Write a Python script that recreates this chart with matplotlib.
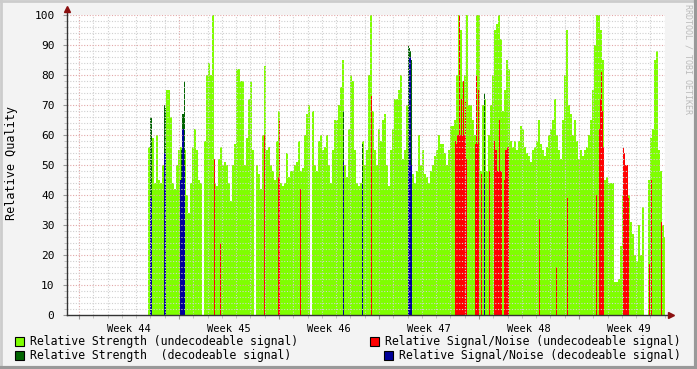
import matplotlib
matplotlib.use('Agg')
import matplotlib.pyplot as plt
import matplotlib.patches as patches
from matplotlib.lines import Line2D
import numpy as np

# x unit = one consolidated sample (1 px in the original), 100 samples per week,
# 0 = start of week 44
weeks = ['Week 44', 'Week 45', 'Week 46', 'Week 47', 'Week 48', 'Week 49']

# Relative Strength (undecodeable signal), one value per 2 samples starting at 69
strength_start = 69
strength_undec = [
    56, 56, 59, 44, 60, 45, 44, 50, 67, 75,
    75, 66, 44, 42, 50, 55, 56, 60, 55, 40,
    34, 44, 56, 62, 55, 45, 44, 0, 58, 80,
    84, 80, 100, 44, 43, 52, 56, 50, 51, 50,
    44, 38, 50, 57, 82, 82, 78, 78, 50, 59,
    72, 78, 55, 0, 50, 47, 42, 60, 83, 55,
    56, 50, 48, 45, 58, 68, 44, 43, 44, 54,
    46, 48, 48, 50, 51, 58, 48, 49, 60, 67,
    70, 0, 68, 50, 48, 58, 60, 55, 56, 60,
    50, 44, 55, 65, 65, 70, 76, 85, 50, 46,
    62, 80, 78, 55, 44, 43, 44, 58, 50, 55,
    80, 100, 68, 55, 50, 62, 58, 65, 67, 50,
    43, 55, 62, 72, 72, 75, 80, 52, 55, 70,
    50, 50, 47, 44, 48, 60, 50, 55, 47, 46,
    44, 48, 50, 53, 55, 60, 57, 57, 54, 50,
    55, 63, 63, 65, 80, 100, 95, 78, 80, 100,
    70, 70, 65, 60, 100, 100, 48, 70, 72, 48,
    60, 70, 80, 95, 97, 100, 92, 68, 75, 85,
    82, 58, 56, 58, 55, 58, 63, 62, 56, 54,
    53, 51, 55, 56, 58, 65, 57, 55, 53, 56,
    60, 62, 65, 72, 60, 55, 52, 65, 80, 95,
    70, 67, 60, 65, 58, 52, 55, 53, 55, 56,
    60, 65, 75, 90, 100, 100, 95, 85, 45, 46,
    44, 44, 44, 11, 11, 12, 23, 40, 44, 45,
    40, 31, 27, 20, 18, 30, 20, 36, 0, 0,
    45, 59, 62, 85, 88, 55, 48, 30, 26,
]

# Relative Signal/Noise (undecodeable signal)
snr_undec_pos = [135, 141, 185, 199, 200, 221, 292,
                 376, 377, 378, 379, 380, 381, 382, 383, 384, 385, 386, 387,
                 396, 397, 398, 399, 402, 410,
                 415, 416, 417, 418, 419, 420, 421, 422, 425, 426, 427, 428, 429,
                 460, 477, 488, 517, 520, 521, 522, 523, 524,
                 544, 545, 546, 547, 548, 549, 570, 572, 582]
snr_undec = [52, 24, 60, 46, 65, 42, 73,
             58, 57, 60, 60, 100, 60, 72, 60, 78, 60, 71, 52,
             57, 80, 57, 75, 47, 48,
             58, 55, 55, 48, 48, 65, 48, 48, 45, 55, 55, 56, 56,
             32, 16, 39, 40, 62, 72, 81, 68, 56,
             56, 54, 50, 50, 50, 39, 17, 45, 31]

# decodeable signal: strength and signal/noise
dec_pos = [71, 72, 85, 86, 101, 102, 103, 104, 105, 264, 283, 329, 330, 331, 332, 405]
strength_dec = [66, 66, 70, 69, 45, 55, 67, 67, 78, 68, 57, 90, 89, 88, 85, 74]
snr_dec = [39, 39, 54, 54, 45, 45, 62, 62, 50, 51, 44, 50, 86, 86, 50, 44]

c_lgreen = '#7FFF00'
c_red = '#FF0000'
c_dgreen = '#006400'
c_blue = '#000099'
font = 'DejaVu Sans Mono'

W, H = 697, 369
fig = plt.figure(figsize=(W / 100, H / 100), dpi=100)
fig.patch.set_facecolor('#F3F3F3')


def fx(px):
    return px / W


def fy(py):
    return 1 - py / H


ax = fig.add_axes([fx(67), fy(315), 598 / W, 300 / H])
ax.set_facecolor('white')
ax.set_xlim(-12, 586)
ax.set_ylim(0, 100)
for s in ax.spines.values():
    s.set_visible(False)

xs = strength_start + 2 * np.arange(len(strength_undec))
ax.bar(xs, strength_undec, width=2, align='edge', color=c_lgreen, linewidth=0, zorder=1)
ax.bar(snr_undec_pos, snr_undec, width=1, align='edge', color=c_red, linewidth=0, zorder=2)
ax.bar(dec_pos, strength_dec, width=1, align='edge', color=c_dgreen, linewidth=0, zorder=3)
ax.bar(dec_pos, snr_dec, width=1, align='edge', color=c_blue, linewidth=0, zorder=4)

# grid on top, like rrdtool
day = 100 / 7
for k in range(0, 42):
    x = k * day
    major = k % 7 == 0
    ax.axvline(x, color='#E2A8A8' if major else '#D0D0D0', lw=0.8,
               ls=(0, (1, 1.5)), zorder=5)
for v in range(2, 101, 2):
    major = v % 10 == 0
    ax.axhline(v, color='#E2A8A8' if major else '#D0D0D0', lw=0.8,
               ls=(0, (1, 1.5)), zorder=5)

# ticks
ax.set_yticks(range(0, 101, 10))
ax.set_yticklabels([str(v) for v in range(0, 101, 10)], fontfamily=font, fontsize=8)
ax.set_yticks(range(0, 101, 2), minor=True)
ax.set_xticks(np.arange(0, 6) * 100)
ax.set_xticklabels([])
ax.set_xticks(np.arange(0, 42) * day, minor=True)
ax.tick_params(axis='y', which='major', length=3, color='#999999', pad=6)
ax.tick_params(axis='y', which='minor', length=2, color='#BBBBBB')
ax.tick_params(axis='x', which='major', length=3, color='#999999')
ax.tick_params(axis='x', which='minor', length=2, color='#BBBBBB')
for i, w in enumerate(weeks):
    ax.text(50 + 100 * i, -3, w, ha='center', va='top', fontfamily=font, fontsize=7.5,
            transform=ax.get_xaxis_transform() if False else ax.transData)

# axis lines with arrows
ax.plot([-12, 592], [0, 0], color='#333333', lw=1, clip_on=False, zorder=6)
ax.plot([-12, -12], [0, 102], color='#333333', lw=1, clip_on=False, zorder=6)
ax.plot([592], [0], marker='>', color='#8B1010', ms=4, clip_on=False, zorder=7)
ax.plot([-12], [102], marker='^', color='#8B1010', ms=4, clip_on=False, zorder=7)

fig.text(fx(12), fy(163), 'Relative Quality', rotation=90, ha='center', va='center',
         fontfamily=font, fontsize=8.5)
fig.text(fx(688), fy(4), 'RRDTOOL / TOBI OETIKER', rotation=270, ha='center', va='top',
         fontfamily=font, fontsize=6, color='#BBBBBB')

# legend
legend = [
    (c_lgreen, 'Relative Strength (undecodeable signal)', 'left', 341),
    (c_dgreen, 'Relative Strength  (decodeable signal)', 'left', 355),
    (c_red, 'Relative Signal/Noise (undecodeable signal)', 'right', 341),
    (c_blue, 'Relative Signal/Noise (decodeable signal)', 'right', 355),
]
renderer = fig.canvas.get_renderer()
for color, label, side, py in legend:
    if side == 'left':
        t = fig.text(fx(30), fy(py), label, ha='left', va='center',
                     fontfamily=font, fontsize=8.3)
        sx = 15
    else:
        t = fig.text(fx(681), fy(py), label, ha='right', va='center',
                     fontfamily=font, fontsize=8.3)
        sx = t.get_window_extent(renderer).x0 - 15
    fig.add_artist(patches.Rectangle((fx(sx), fy(py + 5)), 9 / W, 9 / H,
                                     transform=fig.transFigure, facecolor=color,
                                     edgecolor='black', lw=0.8))

# 3d frame of the image
fig.add_artist(Line2D([0, 1], [fy(0.5), fy(0.5)], color='#CCCCCC', lw=2))
fig.add_artist(Line2D([fx(0.5), fx(0.5)], [0, 1], color='#CCCCCC', lw=2))
fig.add_artist(Line2D([0, 1], [fy(H - 1), fy(H - 1)], color='#999999', lw=3))
fig.add_artist(Line2D([fx(W - 1), fx(W - 1)], [0, 1], color='#999999', lw=3))

fig.savefig('out.png', dpi=100, facecolor=fig.get_facecolor())
